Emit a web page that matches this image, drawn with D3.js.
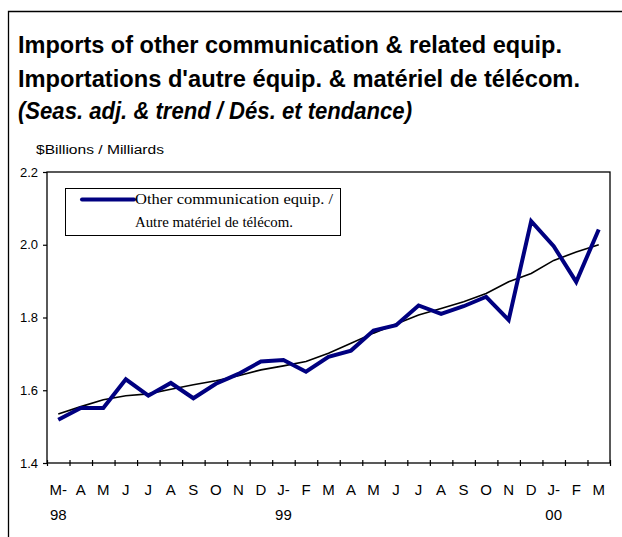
<!DOCTYPE html>
<html>
<head>
<meta charset="utf-8">
<script src="https://cdn.jsdelivr.net/npm/d3@7"></script>
<style>
  body { margin: 0; background: #fff; }
  svg { display: block; }
</style>
</head>
<body>
<svg id="chart" width="622" height="537"></svg>
<script>
// month labels (first row) and year labels (second row)
const months = ["M-", "A", "M", "J", "J", "A", "S", "O", "N", "D", "J-", "F", "M", "A", "M", "J", "J", "A", "S", "O", "N", "D", "J-", "F", "M"];
const years = ["98", "", "", "", "", "", "", "", "", "", "99", "", "", "", "", "", "", "", "", "", "", "", "00", "", ""];

// seasonally adjusted imports, $ billions
const imports = [1.519, 1.551, 1.551, 1.630, 1.585, 1.620, 1.578, 1.618, 1.645, 1.679, 1.683, 1.651, 1.692, 1.709, 1.764, 1.779, 1.833, 1.810, 1.831, 1.857, 1.793, 2.065, 1.996, 1.898, 2.042];

// trend
const trend = [1.535, 1.555, 1.574, 1.585, 1.590, 1.603, 1.615, 1.626, 1.640, 1.656, 1.667, 1.679, 1.702, 1.729, 1.757, 1.782, 1.807, 1.825, 1.843, 1.866, 1.898, 1.921, 1.957, 1.980, 2.000];

const yTicks = [1.4, 1.6, 1.8, 2.0, 2.2];

const svg = d3.select("#chart");

// plot area
const plotLeft = 47, plotRight = 610, plotTop = 172, plotBottom = 463;

// outer frame (left and top edges only are visible)
svg.append("path")
  .attr("d", "M8.5,537 V11.5 H622")
  .attr("fill", "none").attr("stroke", "#000").attr("stroke-width", 1.3);

// titles
const titles = [
  { text: "Imports of other communication & related equip.", y: 53, w: 544, style: "normal" },
  { text: "Importations d'autre équip. & matériel de télécom.", y: 87, w: 562, style: "normal" },
  { text: "(Seas. adj. & trend / Dés. et tendance)", y: 119, w: 394, style: "italic" }
];
svg.selectAll("text.title").data(titles).enter().append("text")
  .attr("class", "title")
  .attr("x", 18).attr("y", d => d.y)
  .attr("textLength", d => d.w).attr("lengthAdjust", "spacingAndGlyphs")
  .style("font-family", "'Liberation Sans', Arial, sans-serif")
  .style("font-weight", "bold").style("font-style", d => d.style)
  .style("font-size", "24px")
  .text(d => d.text);

// unit label
svg.append("text")
  .attr("x", 36).attr("y", 154)
  .attr("textLength", 128).attr("lengthAdjust", "spacingAndGlyphs")
  .style("font-family", "'Liberation Sans', Arial, sans-serif")
  .style("font-size", "12px")
  .text("$Billions / Milliards");

// scales
const x = d3.scaleBand().domain(d3.range(months.length)).range([plotLeft, plotRight]);
const xEdge = d3.scaleLinear().domain([0, months.length]).range([plotLeft, plotRight]);
const y = d3.scaleLinear().domain([1.4, 2.2]).range([plotBottom, plotTop]);

// plot frame
svg.append("rect")
  .attr("x", plotLeft).attr("y", plotTop)
  .attr("width", plotRight - plotLeft).attr("height", plotBottom - plotTop)
  .attr("fill", "none").attr("stroke", "#000").attr("stroke-width", 1.3);

// y axis
const yAxis = svg.append("g")
  .attr("transform", `translate(${plotLeft},0)`)
  .call(d3.axisLeft(y).tickValues(yTicks).tickSize(4).tickFormat(d3.format(".1f")));
yAxis.select(".domain").remove();
yAxis.selectAll("text")
  .attr("x", -9)
  .style("font-family", "'Liberation Sans', Arial, sans-serif")
  .style("font-size", "13px");
yAxis.selectAll("line").attr("stroke-width", 1.2);

// x axis: ticks at month boundaries, crossing the axis line
const xAxis = svg.append("g")
  .attr("transform", `translate(0,${plotBottom})`)
  .call(d3.axisBottom(xEdge).tickValues(d3.range(months.length + 1)).tickSize(3).tickFormat(""));
xAxis.select(".domain").remove();
xAxis.selectAll("line").attr("y1", -3).attr("y2", 3).attr("stroke-width", 1.2);

// month and year labels
svg.append("g").selectAll("text").data(months).enter().append("text")
  .attr("x", (d, i) => x(i) + x.bandwidth() / 2)
  .attr("y", 495)
  .attr("text-anchor", "middle")
  .style("font-family", "'Liberation Sans', Arial, sans-serif")
  .style("font-size", "15px")
  .text(d => d);

svg.append("g").selectAll("text").data(years).enter().append("text")
  .attr("x", (d, i) => x(i) + x.bandwidth() / 2)
  .attr("y", 520)
  .attr("text-anchor", "middle")
  .style("font-family", "'Liberation Sans', Arial, sans-serif")
  .style("font-size", "15px")
  .text(d => d);

// lines
const line = d3.line()
  .x((d, i) => x(i) + x.bandwidth() / 2)
  .y(d => y(d));

svg.append("path").datum(trend)
  .attr("d", line)
  .attr("fill", "none").attr("stroke", "#000").attr("stroke-width", 1.6);

svg.append("path").datum(imports)
  .attr("d", line)
  .attr("fill", "none").attr("stroke", "#000080").attr("stroke-width", 4)
  .attr("stroke-linejoin", "miter");

// legend
const legend = svg.append("g");
legend.append("rect")
  .attr("x", 65.5).attr("y", 188.5).attr("width", 275).attr("height", 47)
  .attr("fill", "#fff").attr("stroke", "#000").attr("stroke-width", 1);
legend.append("line")
  .attr("x1", 82).attr("x2", 134).attr("y1", 199.5).attr("y2", 199.5)
  .attr("stroke", "#000080").attr("stroke-width", 4).attr("stroke-linecap", "round");
const legendText = [
  { text: "Other communication equip. /", y: 204, w: 198 },
  { text: "Autre matériel de télécom.", y: 227, w: 158 }
];
legend.selectAll("text").data(legendText).enter().append("text")
  .attr("x", 135).attr("y", d => d.y)
  .attr("textLength", d => d.w).attr("lengthAdjust", "spacingAndGlyphs")
  .style("font-family", "'Liberation Serif', 'Times New Roman', serif")
  .style("font-size", "14.5px")
  .text(d => d.text);
</script>
</body>
</html>
